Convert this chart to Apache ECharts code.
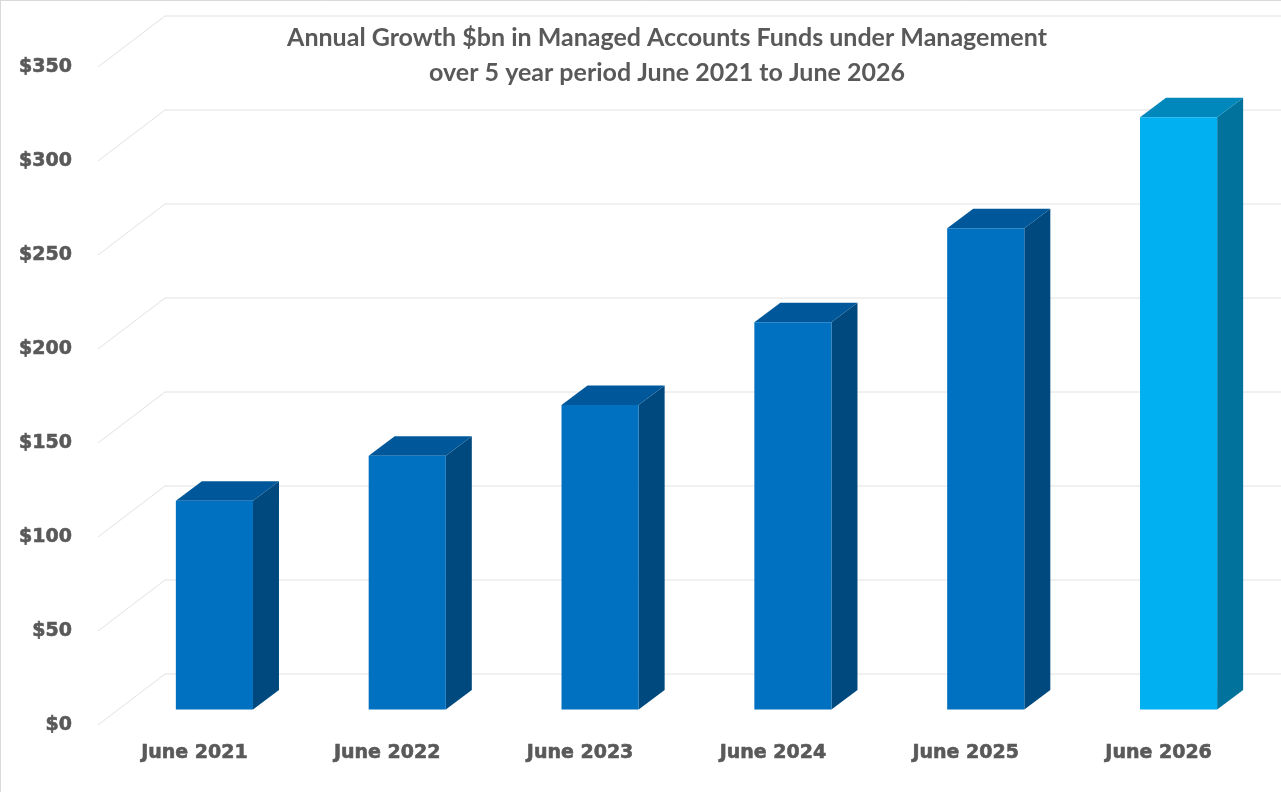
<!DOCTYPE html>
<html>
<head>
<meta charset="utf-8">
<script src="https://cdn.jsdelivr.net/npm/echarts@6/dist/echarts.min.js"></script>
<style>
  html, body { margin: 0; padding: 0; background: #fff; }
  #chart { width: 1281px; height: 792px; }
</style>
</head>
<body>
<div id="chart"></div>
<script>
const categories = ['June 2021', 'June 2022', 'June 2023', 'June 2024', 'June 2025', 'June 2026']
const fum = [111, 135, 162, 206, 256, 315]
const yTicks = [0, 50, 100, 150, 200, 250, 300, 350]

// 3D look: depth of the bars and of the back wall
const BAR_DX = 26, BAR_DY = -19.5
const WALL_BACK_DX = 47, WALL_BACK_DY = -35.5
const WALL_FRONT_DX = -20, WALL_FRONT_DY = 15.5

const faceColors = {
    normal: { front: '#0070C0', top: '#00589A', side: '#00497E' },
    last: { front: '#00B0F0', top: '#0088BD', side: '#00729C' }
}

const labelFont = {
    fontFamily: 'DejaVu Sans',
    fontWeight: 'bold',
    fontSize: 19,
    color: '#595959',
    textBorderColor: '#595959',
    textBorderWidth: 0.6
}

const chart = echarts.init(document.getElementById('chart'))

const renderBar = (params, api) => {
    const idx = api.value(0)
    const base = api.coord([idx, 0])
    const top = api.coord([idx, api.value(1)])
    const w = api.size([1, 0])[0] * 0.4
    const x0 = top[0] - w / 2
    const x1 = x0 + w
    const c = idx === categories.length - 1 ? faceColors.last : faceColors.normal
    return {
        type: 'group',
        children: [
            {
                type: 'polygon',
                shape: { points: [[x1, top[1]], [x1 + BAR_DX, top[1] + BAR_DY], [x1 + BAR_DX, base[1] + BAR_DY], [x1, base[1]]] },
                style: { fill: c.side }
            },
            {
                type: 'polygon',
                shape: { points: [[x0, top[1]], [x1, top[1]], [x1 + BAR_DX, top[1] + BAR_DY], [x0 + BAR_DX, top[1] + BAR_DY]] },
                style: { fill: c.top }
            },
            {
                type: 'rect',
                shape: { x: x0, y: top[1], width: w, height: base[1] - top[1] },
                style: { fill: c.front }
            }
        ]
    }
}

const renderWallLine = (params, api) => {
    const y = api.coord([0, api.value(1)])[1]
    const cs = params.coordSys
    return {
        type: 'polyline',
        shape: {
            points: [
                [cs.x + WALL_FRONT_DX, y + WALL_FRONT_DY],
                [cs.x + WALL_BACK_DX, y + WALL_BACK_DY],
                [1281, y + WALL_BACK_DY]
            ]
        },
        style: { stroke: '#e2e2e2', lineWidth: 1, fill: null }
    }
}

const option = {
    backgroundColor: '#fff',
    animation: false,
    title: {
        text: 'Annual Growth $bn in Managed Accounts Funds under Management\nover 5 year period June 2021 to June 2026',
        left: 662,
        top: 15,
        textAlign: 'center',
        textStyle: {
            fontFamily: 'Lato',
            fontWeight: 'bold',
            fontSize: 25,
            lineHeight: 35,
            color: '#595959'
        }
    },
    graphic: [
        { type: 'line', shape: { x1: 0.5, y1: 0, x2: 0.5, y2: 792 }, style: { stroke: '#d9d9d9', lineWidth: 1 } },
        { type: 'line', shape: { x1: 0, y1: 0.5, x2: 1281, y2: 0.5 }, style: { stroke: '#d9d9d9', lineWidth: 1 } }
    ],
    grid: [
        // plane of the bar fronts
        { left: 118, right: 6, top: 51.5, bottom: 82.5 },
        // front edge of the floor, where the value labels sit
        { left: 118, right: 6, top: 67, bottom: 67 }
    ],
    xAxis: [
        {
            type: 'category',
            data: categories,
            axisLine: { show: false },
            axisTick: { show: false },
            axisLabel: Object.assign({ margin: 34, padding: [0, 40, 0, 0] }, labelFont)
        },
        {
            type: 'category',
            gridIndex: 1,
            data: categories,
            show: false
        }
    ],
    yAxis: [
        {
            type: 'value',
            min: 0,
            max: 350,
            interval: 50,
            axisLine: { show: false },
            axisTick: { show: false },
            splitLine: { show: false },
            axisLabel: { show: false }
        },
        {
            type: 'value',
            gridIndex: 1,
            min: 0,
            max: 350,
            interval: 50,
            axisLine: { show: false },
            axisTick: { show: false },
            splitLine: { show: false },
            axisLabel: Object.assign({ margin: 46, formatter: v => '$' + v }, labelFont)
        }
    ],
    series: [
        {
            type: 'custom',
            z: 1,
            silent: true,
            renderItem: renderWallLine,
            data: yTicks.map(v => [0, v])
        },
        {
            type: 'custom',
            z: 2,
            renderItem: renderBar,
            encode: { x: 0, y: 1 },
            data: fum.map((v, i) => [i, v])
        }
    ]
}

chart.setOption(option)
</script>
</body>
</html>
